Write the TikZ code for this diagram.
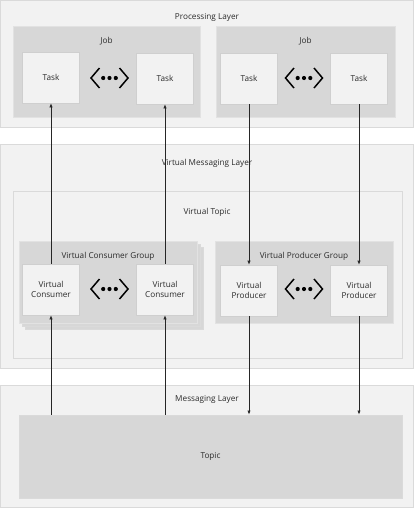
\documentclass[tikz,border=0pt]{standalone}
\usepackage{fontspec}
\setmainfont{Open Sans}
\usetikzlibrary{arrows.meta}

\definecolor{layerfill}{HTML}{F2F2F2}
\definecolor{layerline}{HTML}{DADADA}
\definecolor{groupfill}{HTML}{D7D7D7}
\definecolor{groupline}{HTML}{E2E2E2}
\definecolor{boxfill}{HTML}{F2F2F2}
\definecolor{boxline}{HTML}{CFCFCF}
\definecolor{txt}{HTML}{2B2B2B}

\tikzset{
    layer/.style={draw=layerline, fill=layerfill, line width=0.8pt, inner sep=0pt},
    group/.style={draw=groupline, fill=groupfill, line width=0.8pt, inner sep=0pt},
    unit/.style={draw=boxline, fill=boxfill, line width=0.6pt, inner sep=0pt,
        minimum width=57pt, minimum height=51pt, text=txt, font=\fontsize{8.2}{10.5}\selectfont,
        align=center},
    lbl/.style={text=txt, font=\fontsize{8.2}{10}\selectfont, inner sep=0pt},
    flow/.style={-{Latex[length=4pt,width=3.2pt]}, line width=0.6pt, draw=black!85},
    dotsym/.pic={
        \draw[line width=1.5pt] (-10,-10) -- (-18.5,0) -- (-10,10);
        \draw[line width=1.5pt] (10,-10) -- (18.5,0) -- (10,10);
        \foreach \dx in {-6.3,0,6.3} \fill (\dx,0) circle (2.1);
    }
}

\begin{document}
\begin{tikzpicture}[x=1pt, y=-1pt]
    \useasboundingbox (0,0) rectangle (415,509);

    % processing layer
    \node[layer, minimum width=413pt, minimum height=127pt] (proc) at (207,63.5) {};
    \node[lbl] (procl) at (207,17) {Processing Layer};
    \node[group, minimum width=187pt, minimum height=91pt] (job1) at (106.5,71.5) {};
    \node[group, minimum width=179pt, minimum height=91pt] (job2) at (305.5,71.5) {};
    \node[lbl] (job1l) at (106.5,41) {Job};
    \node[lbl] (job2l) at (305.5,41) {Job};
    \node[unit] (task1) at (51,77.5) {Task};
    \node[unit] (task2) at (165,78.5) {Task};
    \node[unit] (task3) at (249,78.5) {Task};
    \node[unit] (task4) at (359,78.5) {Task};
    \pic at (109.5,78) {dotsym};
    \pic at (304,78) {dotsym};

    % virtual messaging layer
    \node[layer, minimum width=413pt, minimum height=224pt] (vml) at (207,256) {};
    \node[lbl] (vmll) at (207,163) {Virtual Messaging Layer};
    \node[layer, minimum width=389pt, minimum height=167pt] (vtopic) at (207.5,274.5) {};
    \node[lbl] (vtopicl) at (207,212) {Virtual Topic};
    \foreach \off in {6,3}
        \node[group, draw=layerline, minimum width=178pt, minimum height=82pt] at (108+\off,282+\off) {};
    \node[group, minimum width=178pt, minimum height=82pt] (vcg) at (108,282) {};
    \node[group, minimum width=178pt, minimum height=82pt] (vpg) at (304,282) {};
    \node[lbl] (vcgl) at (108,256) {Virtual Consumer Group};
    \node[lbl] (vpgl) at (304,256) {Virtual Producer Group};
    \node[unit] (vc1) at (51,289.5) {Virtual\\Consumer};
    \node[unit] (vc2) at (165,289.5) {Virtual\\Consumer};
    \node[unit] (vp1) at (249,290.5) {Virtual\\Producer};
    \node[unit] (vp2) at (359,290.5) {Virtual\\Producer};
    \pic at (109.5,289) {dotsym};
    \pic at (304,289) {dotsym};

    % messaging layer
    \node[layer, minimum width=413pt, minimum height=122pt] (ml) at (207,446) {};
    \node[lbl] (mll) at (207,399) {Messaging Layer};
    \node[group, draw=layerline, minimum width=383pt, minimum height=83pt,
        text=txt, font=\fontsize{8.2}{10}\selectfont] (topic) at (210.5,456.5) {Topic};

    % flows
    \draw[flow] (vc1.north) -- (task1.south);
    \draw[flow] (vc2.north) -- (task2.south);
    \draw[flow] (task3.south) -- (vp1.north);
    \draw[flow] (task4.south) -- (vp2.north);
    \draw[flow] (topic.north -| vc1) -- (vc1.south);
    \draw[flow] (topic.north -| vc2) -- (vc2.south);
    \draw[flow] (vp1.south) -- (vp1 |- topic.north);
    \draw[flow] (vp2.south) -- (vp2 |- topic.north);
\end{tikzpicture}
\end{document}
